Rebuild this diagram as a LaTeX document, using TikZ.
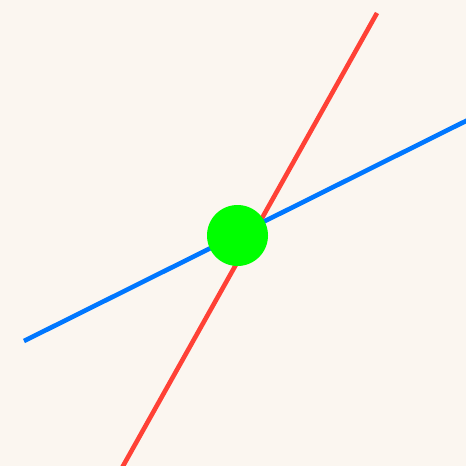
\documentclass[tikz,border=0pt]{standalone}
\definecolor{bg}{HTML}{FBF6F0}
\definecolor{lred}{HTML}{FF4136}
\definecolor{lblue}{HTML}{0077FF}
\definecolor{dotgreen}{HTML}{00FF00}
\tikzset{
  redline/.style={draw=lred,line width=4.6pt},
  blueline/.style={draw=lblue,line width=4.6pt},
  dot/.style={circle,fill=dotgreen,inner sep=0pt,minimum size=61pt}
}
\begin{document}
\begin{tikzpicture}[x=1pt,y=-1pt]
\fill[bg] (0,0) rectangle (466,466);
\useasboundingbox (0,0) rectangle (466,466);
\clip (0,0) rectangle (466,466);
\coordinate (r1) at (377,13);
\coordinate (r2) at (116.3,478);
\coordinate (b1) at (24,341);
\coordinate (b2) at (490,109);
\draw[redline] (r1) -- (r2);
\draw[blueline] (b1) -- (b2);
\node[dot] (p) at (237.5,235.5) {};
\end{tikzpicture}
\end{document}
